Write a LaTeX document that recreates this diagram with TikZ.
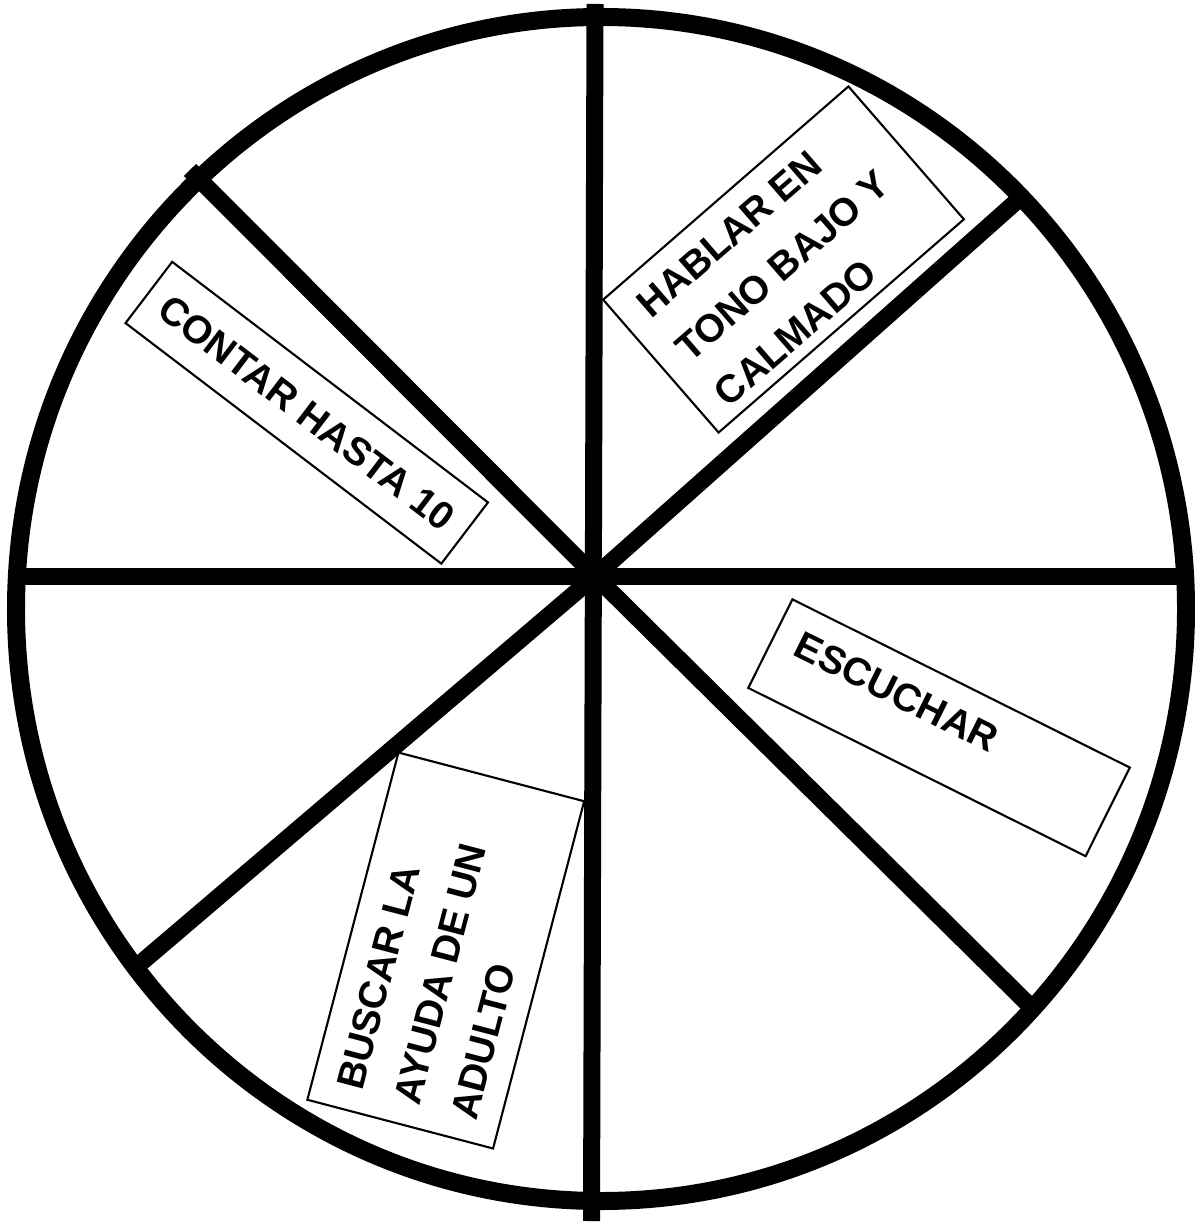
\documentclass[tikz,border=0pt]{standalone}
\usepackage{fontspec}
\setmainfont{Liberation Sans}
\tikzset{
  rim/.style={line width=0.18cm},
  spoke/.style={line width=0.17cm},
  card/.style={draw, line width=0.6pt, inner sep=0pt},
  cardfont/.style={font=\bfseries\fontsize{11.1}{16.8}\selectfont},
  cardtext/.style={cardfont, align=left, inner sep=0pt, anchor=north west},
}
\begin{document}
\begin{tikzpicture}
\useasboundingbox (0,0) rectangle (11.94,-12.22);
% rueda
\draw[rim] (6.01,-6.09) ellipse [x radius=5.85cm, y radius=5.92cm];
\coordinate (hub) at (5.95,-5.76);
\draw[spoke] (5.95,-0.04) -- (5.915,-12.21);
\draw[spoke] (0.10,-5.765) -- (11.86,-5.765);
\foreach \x/\y in {1.90/-1.70, 10.27/-1.92, 1.42/-9.62, 10.27/-10.03}
  \draw[spoke] (hub) -- (\x,\y);
% tarjetas
\node[card, cardfont, rotate=-37.3, minimum width=3.97cm, minimum height=0.77cm] (contar) at (3.0675,-4.1275) {CONTAR HASTA 10};
\node[card, rotate=41, minimum width=3.25cm, minimum height=1.76cm] (hablarbox) at (7.835,-2.595) {};
\node[cardtext, rotate=41, xshift=0.24cm, yshift=-0.2cm] (hablar) at (hablarbox.north west) {HABLAR EN\\TONO BAJO Y\\CALMADO};
\node[card, rotate=-26.5, minimum width=3.77cm, minimum height=0.99cm] (escucharbox) at (9.39,-7.2775) {};
\node[cardtext, rotate=-26.5, xshift=0.245cm, yshift=-0.23cm] (escuchar) at (escucharbox.north west) {ESCUCHAR};
\node[card, rotate=75.3, minimum width=3.59cm, minimum height=1.92cm] (buscarbox) at (4.4575,-9.505) {};
\node[cardtext, rotate=75.3, xshift=0.22cm, yshift=-0.24cm] (buscar) at (buscarbox.north west) {BUSCAR LA\\AYUDA DE UN\\ADULTO};
\end{tikzpicture}
\end{document}
